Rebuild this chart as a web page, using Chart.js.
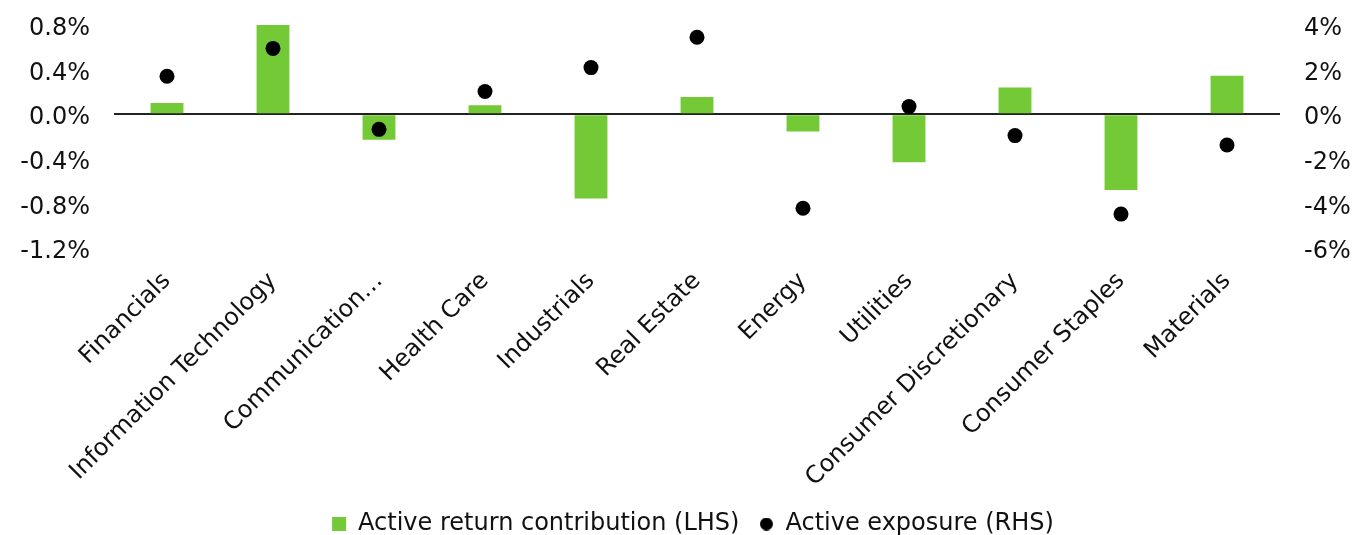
<!DOCTYPE html>
<html>
<head>
<meta charset="utf-8">
<title>Active return contribution vs active exposure</title>
<script src="https://cdn.jsdelivr.net/npm/chart.js@4.4.1/dist/chart.umd.min.js"></script>
<style>
  html, body { margin: 0; padding: 0; background: #fff; }
  #wrap { width: 1358px; height: 535px; }
</style>
</head>
<body>
<div id="wrap"><canvas id="sectorChart" width="1358" height="535"></canvas></div>
<script>
// ── Data ──────────────────────────────────────
const sectors = [
  'Financials', 'Information Technology', 'Communication…', 'Health Care',
  'Industrials', 'Real Estate', 'Energy', 'Utilities',
  'Consumer Discretionary', 'Consumer Staples', 'Materials'
];

// Active return contribution, % (left axis)
const returnContrib = [0.10, 0.80, -0.23, 0.08, -0.755, 0.155, -0.155, -0.43, 0.24, -0.68, 0.345];

// Active exposure, % (right axis)
const exposure = [1.7, 2.95, -0.68, 1.02, 2.09, 3.45, -4.22, 0.34, -0.96, -4.48, -1.38];

const leftTicks  = { min: -1.2, max: 0.8, step: 0.4 };
const rightTicks = { min: -6, max: 4, step: 2 };

// ── Style ─────────────────────────────────────
const GREEN = '#74c936';
const INK   = '#111111';
const FONT  = 'DejaVu Sans';
const FSIZE = 24;

Chart.defaults.font.family = FONT;
Chart.defaults.color = INK;

// small black dot used as the legend marker for the exposure series
function legendDot(size) {
  const c = document.createElement('canvas');
  c.width = size; c.height = size;
  const g = c.getContext('2d');
  g.fillStyle = '#000';
  g.beginPath();
  g.arc(size / 2, size / 2, size / 2, 0, Math.PI * 2);
  g.fill();
  return c;
}
const dotImg = legendDot(13);

// nudge the legend a little to the right, like the original
const legendShift = {
  id: 'legendShift',
  afterLayout(chart) {
    const lg = chart.legend;
    if (!lg) return;
    lg.left += 14;
    lg.right += 14;
  },
};

// ── Chart ─────────────────────────────────────
new Chart(document.getElementById('sectorChart'), {
  plugins: [legendShift],
  data: {
    labels: sectors,
    datasets: [
      {
        type: 'bar',
        label: 'Active return contribution (LHS)',
        data: returnContrib,
        yAxisID: 'y',
        backgroundColor: GREEN,
        borderWidth: 0,
        categoryPercentage: 1,
        barPercentage: 0.31,
        pointStyle: 'rect',
        order: 2,
        clip: false,
      },
      {
        type: 'line',
        label: 'Active exposure (RHS)',
        data: exposure,
        yAxisID: 'y1',
        showLine: false,
        pointRadius: 7.5,
        pointBackgroundColor: '#000',
        pointBorderWidth: 0,
        pointStyle: 'circle',
        backgroundColor: '#000',
        borderColor: '#000',
        order: 1,
        clip: false,
      },
    ],
  },
  options: {
    responsive: false,
    animation: false,
    devicePixelRatio: 1,
    layout: { padding: { top: 25, left: 0, right: 0, bottom: -11 } },
    plugins: {
      tooltip: { enabled: false },
      legend: {
        position: 'bottom',
        reverse: true,
        labels: {
          usePointStyle: true,
          boxWidth: 14,
          boxHeight: 14,
          padding: 20,
          color: INK,
          font: { family: FONT, size: FSIZE },
          generateLabels: (chart) => {
            const items = Chart.defaults.plugins.legend.labels.generateLabels(chart);
            items.forEach(it => { if (it.pointStyle === 'circle') it.pointStyle = dotImg; });
            return items;
          },
        },
      },
    },
    scales: {
      x: {
        grid: { display: false },
        border: { display: false },
        ticks: {
          autoSkip: false,
          minRotation: 45,
          maxRotation: 45,
          padding: 11,
          color: INK,
          font: { family: FONT, size: FSIZE },
        },
        afterFit: (s) => { s.height = 244; },
      },
      y: {
        position: 'left',
        min: leftTicks.min,
        max: leftTicks.max,
        border: { display: false },
        grid: {
          drawTicks: false,
          lineWidth: 2,
          color: (c) => Math.abs(c.tick.value) < 1e-9 ? '#222' : 'rgba(0,0,0,0)',
        },
        ticks: {
          stepSize: leftTicks.step,
          padding: 24,
          labelOffset: 4,
          color: INK,
          font: { family: FONT, size: FSIZE },
          callback: (v) => v.toFixed(1) + '%',
        },
        afterFit: (s) => { s.width = 114; s.paddingTop = 0; s.paddingBottom = 0; },
      },
      y1: {
        position: 'right',
        min: rightTicks.min,
        max: rightTicks.max,
        border: { display: false },
        grid: { display: false, drawTicks: false },
        ticks: {
          stepSize: rightTicks.step,
          padding: 24,
          labelOffset: 4,
          color: INK,
          font: { family: FONT, size: FSIZE },
          callback: (v) => v + '%',
        },
        afterFit: (s) => { s.width = 78; s.paddingTop = 0; s.paddingBottom = 0; },
      },
    },
  },
});
</script>
</body>
</html>
